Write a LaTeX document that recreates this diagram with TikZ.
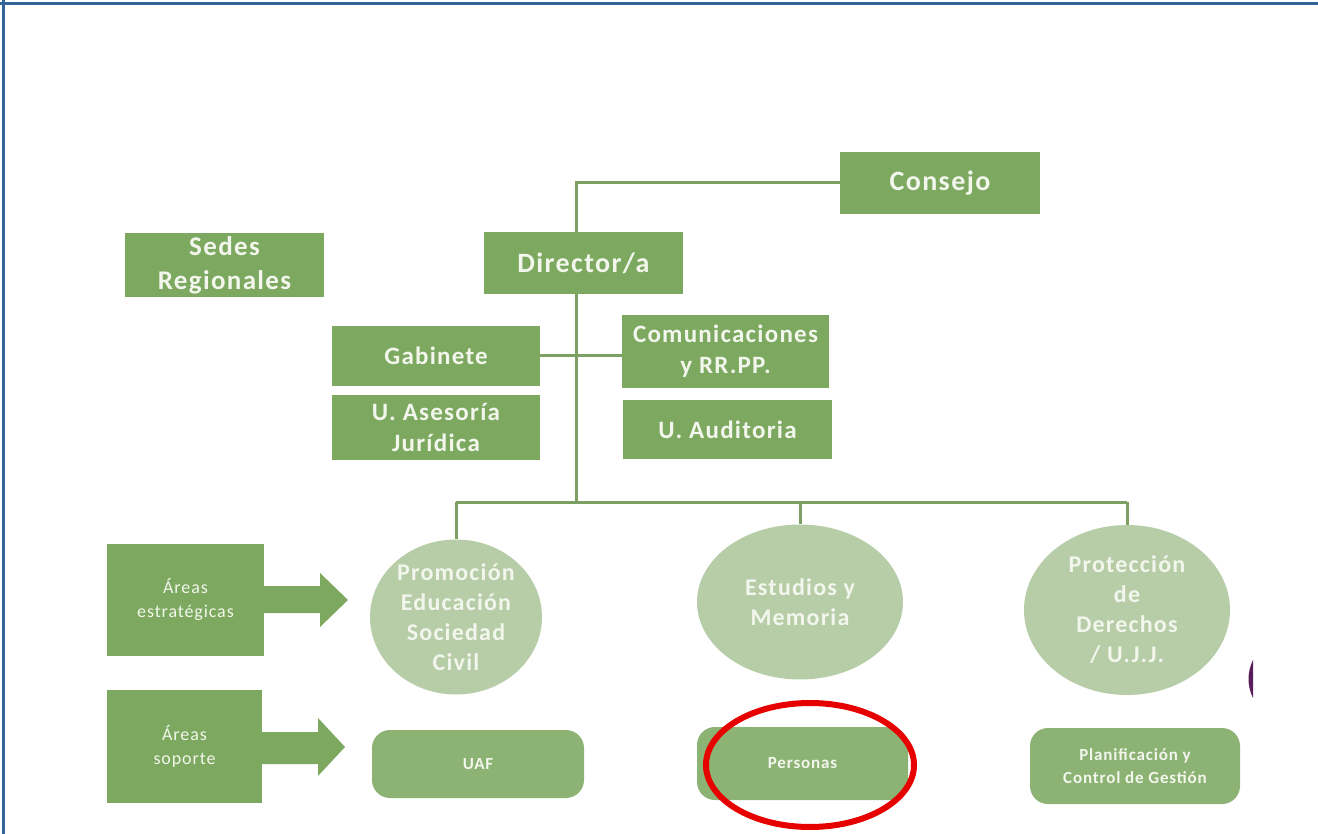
\documentclass[tikz,border=0pt]{standalone}
\usepackage{fontspec}
\setmainfont{Carlito}
\usetikzlibrary{calc,shapes.geometric}
\definecolor{boxg}{HTML}{7CA95F}
\definecolor{circg}{HTML}{B6CDA7}
\definecolor{lowg}{HTML}{8CB373}
\definecolor{lineg}{HTML}{7C9F63}
\definecolor{txtw}{HTML}{F2F6EC}
\definecolor{frameb}{HTML}{34659A}
\definecolor{redc}{HTML}{E60000}
\definecolor{purp}{HTML}{5A1F5A}
\newfontfamily\wideb[LetterSpace=5]{Carlito}
\tikzset{
  gbox/.style={rectangle, fill=boxg, text=txtw, align=center, inner sep=0pt,
    font=\wideb\bfseries\fontsize{25}{31}\selectfont},
  gcirc/.style={ellipse, fill=circg, text=txtw, align=center, inner sep=0pt,
    font=\wideb\bfseries\fontsize{24}{30}\selectfont},
  glow/.style={rectangle, rounded corners=18pt, fill=lowg, text=txtw, align=center, inner sep=0pt,
    font=\wideb\bfseries\fontsize{17}{23}\selectfont},
  abox/.style={rectangle, fill=boxg, text=txtw, align=center, inner sep=0pt,
    font=\wideb\fontsize{18}{24}\selectfont},
  conn/.style={draw=lineg, line width=3pt},
  barrow/.style={fill=boxg},
}
\begin{document}
\begin{tikzpicture}[x=1pt,y=-1pt]
\useasboundingbox (0,0) rectangle (1318,834);
\fill[white] (0,0) rectangle (1318,834);
% frame
\draw[frameb, line width=3.5pt] (0,3.5) -- (1318,3.5);
\draw[frameb, line width=3.5pt] (3.5,0) -- (3.5,834);

\coordinate (spine) at (576,0);
\coordinate (bus) at (576,502);

\node[gbox, minimum width=200pt, minimum height=62pt, font=\wideb\bfseries\fontsize{28}{30}\selectfont] (consejo) at (940,183) {Consejo};
\node[gbox, minimum width=199pt, minimum height=62pt, font=\wideb\bfseries\fontsize{28}{30}\selectfont] (dir) at (583.5,263) {Director/a};
\node[gbox, minimum width=199pt, minimum height=64pt, font=\wideb\bfseries\fontsize{27}{34}\selectfont] (sedes) at (224.5,265) {Sedes\\Regionales};
\node[gbox, minimum width=208pt, minimum height=60pt] (gab) at (436,356) {Gabinete};
\node[gbox, minimum width=208pt, minimum height=65pt] (ases) at (436,427.5) {U. Asesoría\\Jurídica};
\node[gbox, minimum width=207pt, minimum height=73pt] (com) at (725.5,351.5) {Comunicaciones\\y RR.PP.};
\node[gbox, minimum width=209pt, minimum height=59pt] (aud) at (727.5,429.5) {U. Auditoria};

\node[gcirc, minimum width=172pt, minimum height=155pt] (prom) at (456,617) {Promoción\\Educación\\Sociedad\\Civil};
\node[gcirc, minimum width=206pt, minimum height=155pt] (est) at (800,602) {Estudios y\\Memoria};
\node[gcirc, minimum width=206pt, minimum height=170pt] (prot) at (1127,610) {Protección\\de\\Derechos\\/ U.J.J.};

\node[abox, minimum width=157pt, minimum height=112pt] (ae) at (185.5,600) {Áreas\\estratégicas};
\node[abox, minimum width=155pt, minimum height=113pt] (as) at (184.5,746.5) {Áreas\\soporte};

\node[glow, minimum width=212pt, minimum height=68pt] (uaf) at (478,764) {UAF};
\node[glow, minimum width=211pt, minimum height=73pt] (pers) at (802.5,763.5) {Personas};
\node[glow, minimum width=210pt, minimum height=76pt] (plan) at (1135,766) {Planificación y\\Control de Gestión};

% connectors
\draw[conn] (consejo.west) -| (dir.north -| spine);
\draw[conn] (dir.south -| spine) -- (bus);
\draw[conn] (gab.east) -- (gab.east -| com.west);
\draw[conn] (bus -| prom.north) -- (bus -| prot.north);
\draw[conn] (bus -| prom.north) -- (prom.north);
\draw[conn] (bus -| est.north) -- (est.north);
\draw[conn] (bus -| prot.north) -- (prot.north);

% block arrows
\fill[barrow] (ae.east |- 0,586) -- (320,586) -- (320,573) -- (348,600) -- (320,627) -- (320,613) -- (ae.east |- 0,613) -- cycle;
\fill[barrow] (as.east |- 0,732) -- (318,732) -- (318,718) -- (345,747) -- (318,776) -- (318,764) -- (as.east |- 0,764) -- cycle;

% red highlight
\draw[redc, line width=6pt] (810,765) ellipse [x radius=104pt, y radius=62pt];

% purple sliver at right
\fill[purp] (1253,660) .. controls (1247,672) and (1247,686) .. (1253,698) -- cycle;
\end{tikzpicture}
\end{document}
